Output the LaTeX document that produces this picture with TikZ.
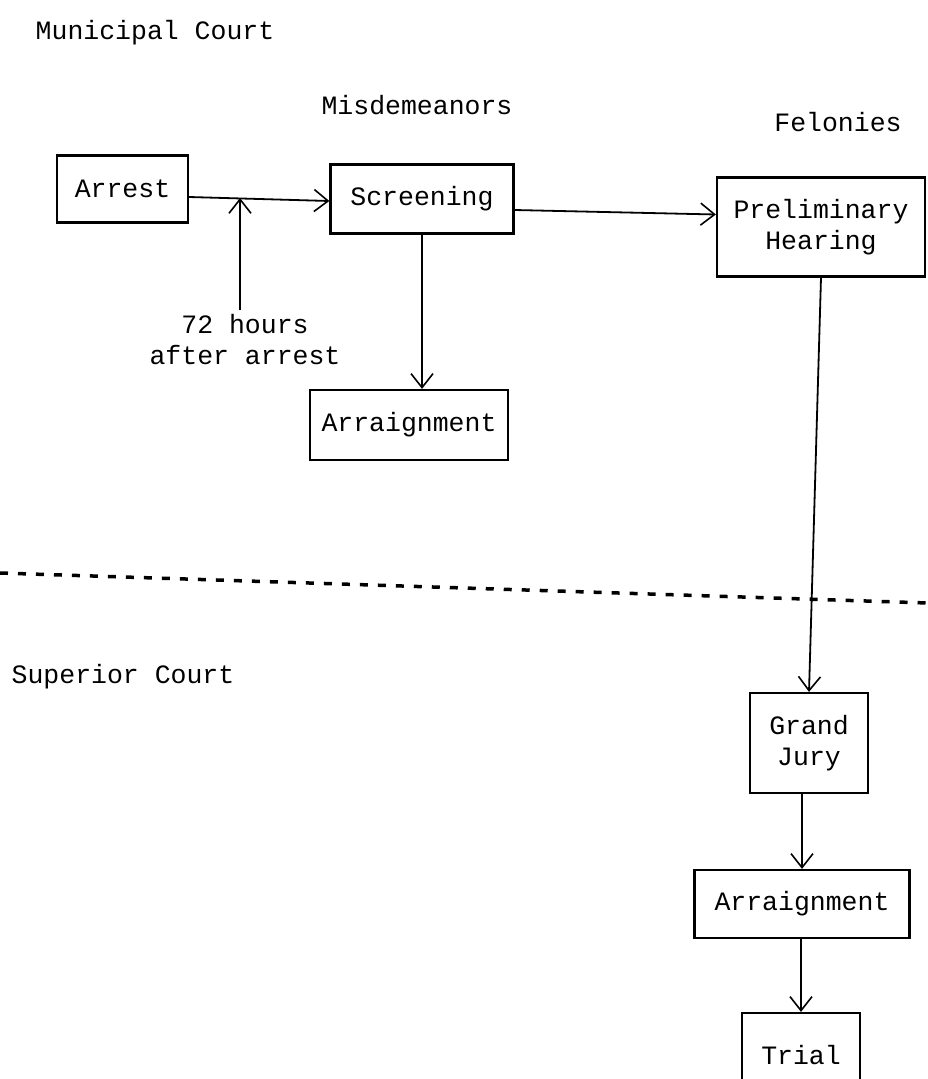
\documentclass[tikz,border=0pt]{standalone}
\usepackage{fontspec}
\setmonofont{Liberation Mono}
\usetikzlibrary{arrows.meta}
\begin{document}
\begin{tikzpicture}[x=1pt,y=1pt,
  font=\ttfamily\fontsize{26.5}{31}\selectfont,
  box/.style={draw, line width=2.2pt, align=center, inner sep=0pt},
  flow/.style={line width=1.8pt, -{Straight Barb[length=14pt,width=22pt,line width=1.6pt]}},
  label/.style={align=center, inner sep=0pt},
  divider/.style={line width=3.5pt, dash pattern=on 8pt off 10pt}
]
\useasboundingbox (0,0) rectangle (928,-1079);
\clip (0,0) rectangle (928,-1079);
\fill[white] (0,0) rectangle (928,-1079);

% section titles
\node[label] (muni)   at (155,-33)  {Municipal Court};
\node[label] (misd)   at (417,-105) {Misdemeanors};
\node[label] (felon)  at (838,-122) {Felonies};
\node[label] (super)  at (123,-677) {Superior Court};

% municipal court steps
\node[box, minimum width=131pt, minimum height=67pt] (arrest) at (122.5,-189) {Arrest};
\node[box, minimum width=183pt, minimum height=69pt] (scr)    at (422,-199)   {Screening};
\node[box, minimum width=198pt, minimum height=70pt] (arr1)   at (409,-425)   {Arraignment};
\node[box, minimum width=208pt, minimum height=99pt] (prelim) at (821,-227)   {Preliminary\\Hearing};

% superior court steps
\node[box, minimum width=118pt, minimum height=100pt] (gj)    at (809,-743)  {Grand\\ Jury};
\node[box, minimum width=215pt, minimum height=68pt]  (arr2)  at (802,-904)  {Arraignment};
\node[box, minimum width=118pt, minimum height=84pt]  (trial) at (801,-1055) {Trial};

% 72-hour note
\node[label] (note) at (245,-340) {72 hours\\after arrest};
\coordinate (t72top) at (240,-198);
\coordinate (t72bot) at (240,-310);

% court boundary
\coordinate (divL) at (0,-573);
\coordinate (divR) at (928,-603);
\draw[divider] (divL) -- (divR);

% connectors
\draw[flow] ([yshift=-8pt]arrest.east) -- ([yshift=-2pt]scr.west);
\draw[flow] (t72bot) -- (t72top);
\draw[flow] ([yshift=-11pt]scr.east) -- ([yshift=12.5pt]prelim.west);
\draw[flow] (scr.south) -- (scr.south |- arr1.north);
\draw[flow] (prelim.south) -- (gj.north);
\draw[flow] (arr2.north |- gj.south) -- (arr2.north);
\draw[flow] (trial.north |- arr2.south) -- (trial.north);
\end{tikzpicture}
\end{document}
